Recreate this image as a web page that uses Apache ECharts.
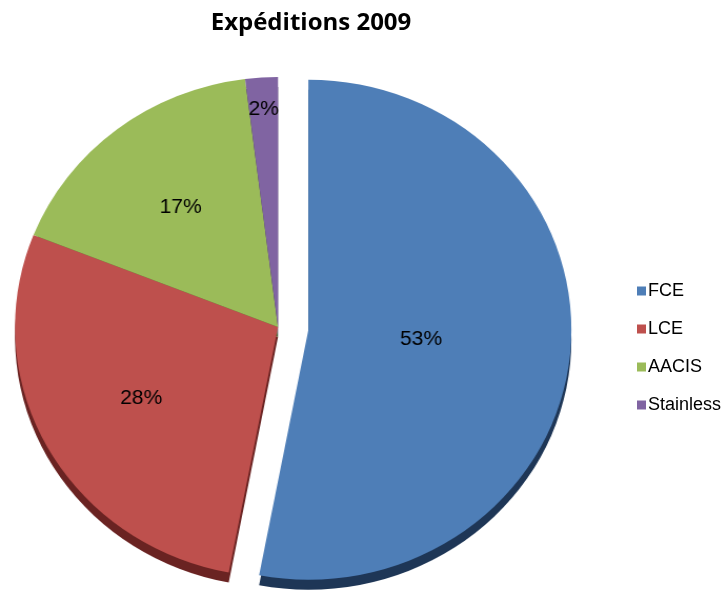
<!DOCTYPE html>
<html><head><meta charset="utf-8">
<script src="https://cdn.jsdelivr.net/npm/echarts@6/dist/echarts.min.js"></script>
<style>
html,body{margin:0;padding:0;background:#fff}
#wrap{position:relative;width:727px;height:596px;overflow:hidden}
#pie{position:absolute;left:0;top:0;width:691px;height:596px;transform:scaleX(1.052);transform-origin:0 0}
#over{position:absolute;left:0;top:0;width:727px;height:596px}
</style>
</head><body><div id="wrap"><div id="pie"></div><div id="over"></div></div>
<script>
var categories = ['FCE', 'LCE', 'AACIS', 'Stainless'];
var values = [53, 28, 17, 2];
var colors = ['#4E7EB7', '#BE504D', '#9BBB59', '#8064A2'];
var sideColors = ['#1E3656', '#6A2322', '#4E6330', '#3F3152'];
var labelRatios = [0.42, 0.58, 0.59, 0.85];

var SX = 1.052;              // horizontal stretch of the pie (elliptical look)
var CX = 278 / SX, CY = 327, R = 250;

function makeData(cols) {
  return categories.map(function (n, i) {
    return { name: n, value: values[i], selected: i === 0, itemStyle: { color: cols[i] } };
  });
}

var pieChart = echarts.init(document.getElementById('pie'), null, { renderer: 'canvas' });
pieChart.setOption({
  animation: false,
  series: [
    {
      type: 'pie', name: 'main', z: 3,
      center: [CX, CY], radius: R, startAngle: 90, clockwise: true,
      selectedMode: 'single', selectedOffset: 29,
      data: makeData(colors),
      label: { show: true, position: 'inside', formatter: '{d}%', fontFamily: 'Liberation Sans', fontSize: 20, color: '#000' },
      labelLine: { show: false },
      emphasis: { disabled: true },
      labelLayout: function (p) {
        var r = p.labelRect;
        var lx = r.x + r.width / 2, ly = r.y + r.height / 2;
        var k = labelRatios[p.dataIndex] / 0.5 - 1;
        return { dx: (lx - CX) * k, dy: (ly - CY) * k };
      }
    },
    {
      type: 'pie', name: 'side', z: 1, silent: true,
      center: [CX, CY + 10], radius: R, startAngle: 90, clockwise: true,
      selectedMode: 'single', selectedOffset: 29,
      data: makeData(sideColors),
      label: { show: false }, labelLine: { show: false },
      emphasis: { disabled: true }
    }
  ]
});

var overChart = echarts.init(document.getElementById('over'), null, { renderer: 'canvas' });
overChart.setOption({
  animation: false,
  title: {
    text: 'Expéditions 2009', left: 306, top: 6, textAlign: 'center',
    textStyle: { fontFamily: 'Open Sans', fontWeight: 'bold', fontSize: 24, color: '#000' }
  },
  legend: {
    orient: 'vertical', left: 632, top: 277, itemGap: 20,
    icon: 'rect', itemWidth: 9, itemHeight: 9,
    data: categories,
    textStyle: { fontFamily: 'Liberation Sans', fontSize: 18, color: '#000', padding: [0, 0, 0, -3] }
  },
  series: [{
    type: 'pie', radius: 0, center: [-100, -100], silent: true, label: { show: false }, labelLine: { show: false },
    data: categories.map(function (n, i) { return { name: n, value: values[i], itemStyle: { color: colors[i] } }; })
  }]
});
</script></body></html>
